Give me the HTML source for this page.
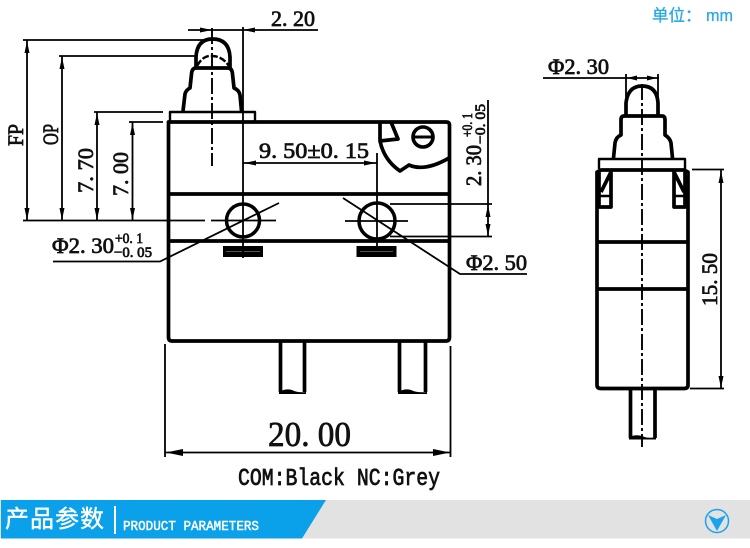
<!DOCTYPE html>
<html><head><meta charset="utf-8"><style>
html,body{margin:0;padding:0;background:#fff}
svg{display:block}
text{font-family:"Liberation Serif","Noto Serif CJK SC",serif;fill:#111;font-weight:normal;stroke:#111;stroke-width:.75}
.n{fill:none;stroke:#000;stroke-width:1.8}
.t{fill:none;stroke:#000;stroke-width:3.7;stroke-linejoin:round}
.m{fill:none;stroke:#000;stroke-width:2.4;stroke-linejoin:round}
.c{fill:none;stroke:#000;stroke-width:1.9;stroke-dasharray:16 3 3 3}
.a{fill:#000}
</style></head><body>
<svg width="750" height="548" viewBox="0 0 750 548" xmlns="http://www.w3.org/2000/svg">
<rect width="750" height="548" fill="#fff"/>

<!-- Front view: body -->
<path class="t" d="M168.5 122H446Q449.500 122 449.500 125V337Q449.500 341 446 341H172Q168.500 341 168.500 337Z"/>
<path class="t" d="M168 194H449M168 241H449"/>
<path class="m" d="M170 122V112H255V122"/>
<path class="t" d="M183 111L185 94Q186 90 190 88L191.500 74Q192 68 196 68H228Q232 68 232.500 74L234 88Q239 90 240 95L241.500 111"/>
<path class="t" d="M196 68V57Q197 39 212.500 39Q229 39 230 57V68"/>
<path class="m" d="M197 66Q203 55 212 56Q222 56 229 66" stroke-dasharray="7 2"/>
<path class="c" d="M212 28V166"/>

<!-- Cam -->
<path class="t" d="M380 122V141L398 139L391 122"/>
<path class="t" d="M380 141Q384 160 400 171L409 165Q425 172 449 158"/>
<circle cx="423" cy="137" r="10" fill="none" stroke="#000" stroke-width="3.600"/>
<path d="M413 137H433" stroke="#000" stroke-width="3"/>

<!-- Holes -->
<circle cx="243" cy="220.500" r="16.500" fill="none" stroke="#000" stroke-width="3.500"/>
<circle cx="377" cy="221" r="18" fill="none" stroke="#000" stroke-width="3.500"/>
<path class="n" d="M211 220.500H276M345 221H408"/>
<rect x="223" y="246" width="40" height="11" fill="#000"/>
<rect x="356.500" y="246" width="40" height="11" fill="#000"/>
<path d="M226 251.500H260M360 251.500H393" stroke="#555" stroke-width="1"/>

<!-- Pins -->
<path class="t" d="M280.500 341V392M304.500 341V392M399.500 341V392M425.500 341V392"/>
<path d="M279 392Q286 388 292 390Q298 393 306 392V394H279Z M398 392Q405 388 411 390Q417 393 427 392V394H398Z" fill="#000"/>

<!-- Dims: left stack -->
<path class="n" d="M23 40H205M59 56H197M94 112H163M129 122H163M23 220.500H205"/>
<path class="n" d="M27 40V220M62 56V220M97 112V220M132.500 122V220"/>
<path class="a" d="M27 41l-2.500 12h5zM62 57l-2.500 12h5zM97 113l-2.500 12h5zM132.500 123l-2.500 12h5z"/>
<path class="a" d="M27 220l-2.500 -12h5zM62 220l-2.500 -12h5zM97 220l-2.500 -12h5zM132.500 220l-2.500 -12h5z"/>

<!-- 2.20 -->
<path class="n" d="M188 30H318M243 27V258"/>
<path class="a" d="M212 30l-12 -2.500v5zM243 30l12 -2.500v5z"/>

<!-- 9.50 -->
<path class="n" d="M243 163H377M377 153V247"/>
<path class="a" d="M244 163l12 -2.500v5zM376 163l-12 -2.500v5z"/>

<!-- 2.30 right -->
<path class="n" d="M390 204H492M390 236.500H492M488 100V236"/>
<path class="a" d="M488 205l-2.500 12h5zM488 236l-2.500 -12h5z"/>

<!-- Leaders -->
<path class="n" d="M53 261.500H160L279 203M343 198L460 274H527"/>

<!-- 20.00 -->
<path class="n" d="M165 344V457M450.500 346V457M165 452.500H450"/>
<path class="a" d="M166 452.500l17 -3.500v7zM450 452.500l-17 -3.500v7z"/>

<!-- Side view -->
<path class="t" d="M597 220V385Q597 388.500 601 388.500H684Q688 388.500 688 385V172L684 170H601L597 172V220"/>
<path class="m" d="M599 169V159H685V169"/>
<path class="t" d="M613.500 158L615 143Q616 137 621 135V120Q621 116 624 116H662Q665 116 665 120V135Q670 138 671 143L672.500 158"/>
<path class="t" d="M626 116V103Q628 86 642 86Q657 86 658 103V116"/>
<path class="t" d="M597 242H688M597 289H688"/>
<path class="t" d="M599 172V207H611V172L601 192M685 172V207H674V172L684 192"/>
<path class="m" d="M600 196H610M675 196H685"/>
<path class="t" d="M630.500 389V438M655 389V438"/>
<path d="M629 437Q636 434 642 436Q648 439 656 437V439.500H629Z" fill="#000"/>
<path class="c" d="M642 84V447"/>
<path class="n" d="M543 78H659M626 74V116M658 74V116"/>
<path class="a" d="M627 78l10 -2.500v5zM657 78l-10 -2.500v5z"/>
<path class="n" d="M692 169.500H724M690 388.500H724M721 170V388"/>
<path class="a" d="M721 171l-2.500 12h5zM721 388l-2.500 -12h5z"/>

<!-- Labels -->
<g font-size="22">
<text x="271" y="26" textLength="44" lengthAdjust="spacingAndGlyphs">2. 20</text>
<text x="259" y="158" textLength="110" lengthAdjust="spacingAndGlyphs">9. 50±0. 15</text>
<text x="548" y="74" textLength="61" lengthAdjust="spacingAndGlyphs">Φ2. 30</text>
<text x="466" y="270" textLength="61" lengthAdjust="spacingAndGlyphs">Φ2. 50</text>
<text x="52" y="253" textLength="62" lengthAdjust="spacingAndGlyphs">Φ2. 30</text>
<text transform="translate(23,146) rotate(-90)" textLength="22" lengthAdjust="spacingAndGlyphs">FP</text>
<text transform="translate(58,145) rotate(-90)" textLength="21" lengthAdjust="spacingAndGlyphs">OP</text>
<text transform="translate(93,193) rotate(-90)" textLength="45" lengthAdjust="spacingAndGlyphs">7. 70</text>
<text transform="translate(128,196) rotate(-90)" textLength="44" lengthAdjust="spacingAndGlyphs">7. 00</text>
<text transform="translate(717,306) rotate(-90)" textLength="53" lengthAdjust="spacingAndGlyphs">15. 50</text>
<text transform="translate(481,186) rotate(-90)" textLength="41" lengthAdjust="spacingAndGlyphs">2. 30</text>
</g>
<g font-size="15">
<text x="115" y="243" textLength="28" lengthAdjust="spacingAndGlyphs">+0. 1</text>
<text x="114" y="257" textLength="38" lengthAdjust="spacingAndGlyphs">−0. 05</text>
<text transform="translate(472,137) rotate(-90)" textLength="24" lengthAdjust="spacingAndGlyphs">+0. 1</text>
<text transform="translate(485,144) rotate(-90)" textLength="40" lengthAdjust="spacingAndGlyphs">−0. 05</text>
</g>
<text x="268" y="446" font-size="35" textLength="83" lengthAdjust="spacingAndGlyphs">20. 00</text>
<text x="238" y="485" font-size="24" textLength="202" lengthAdjust="spacingAndGlyphs" style="font-family:'Liberation Mono',monospace">COM:Black NC:Grey</text>

<text x="652" y="21" font-size="16.500" style="fill:#2aa8e6;stroke:#2aa8e6;stroke-width:.3;font-family:'Noto Sans CJK SC',sans-serif">单位：</text>
<text x="706" y="21" font-size="17" textLength="27" lengthAdjust="spacingAndGlyphs" style="fill:#2aa8e6;stroke:#2aa8e6;stroke-width:.3;font-family:'Liberation Sans',sans-serif">mm</text>

<!-- Banner -->
<rect x="0" y="500" width="750" height="38.500" fill="#e3e2e2"/>
<path d="M1 500H326L302 538.500H1Z" fill="#0aa1ea"/>
<text x="5" y="527" font-size="24" textLength="99" style="fill:#fff;stroke:#fff;stroke-width:.4;font-family:'Noto Sans CJK SC',sans-serif">产品参数</text>
<rect x="114" y="506" width="2" height="28" fill="#fff"/>
<text x="123" y="530" font-size="14" textLength="136" lengthAdjust="spacingAndGlyphs" style="fill:#fff;stroke:#fff;stroke-width:.5;font-family:'Liberation Mono',monospace">PRODUCT PARAMETERS</text>
<circle cx="717" cy="521" r="11.500" fill="none" stroke="#1aa3e8" stroke-width="1.500"/>
<path d="M708 515L717 519L726 515L717 531Z" fill="#1aa3e8"/>
</svg>
</body></html>
